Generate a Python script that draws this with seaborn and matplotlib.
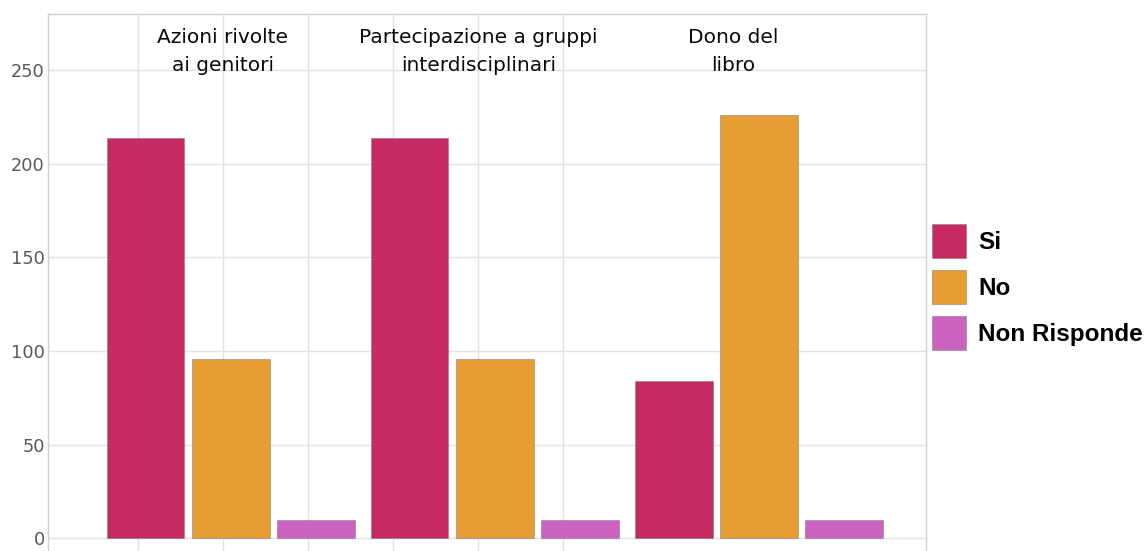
import matplotlib
matplotlib.use("Agg")
import matplotlib.pyplot as plt
import seaborn as sns
import pandas as pd

# Survey answers per initiative
categorie = ["Azioni rivolte\nai genitori",
             "Partecipazione a gruppi\ninterdisciplinari",
             "Dono del\nlibro"]
risposte = ["Si", "No", "Non Risponde"]
valori_si = [214, 214, 84]
valori_no = [96, 96, 226]
valori_nr = [10, 10, 10]
y_ticks = [0, 50, 100, 150, 200, 250]

colori = {"Si": "#C72A62", "No": "#E59D34", "Non Risponde": "#CA62C0"}

df = pd.DataFrame({
    "categoria": categorie * 3,
    "risposta": ["Si"] * 3 + ["No"] * 3 + ["Non Risponde"] * 3,
    "valore": valori_si + valori_no + valori_nr,
})

sns.set_theme(style="white")
plt.rcParams["font.family"] = ["DejaVu Sans"]

W, H = 1148, 551
fig = plt.figure(figsize=(W / 100, H / 100), dpi=100)
ax = fig.add_axes([48.3 / W, 0, (925.5 - 48.3) / W, (H - 14) / H])

sns.barplot(data=df, x="categoria", y="valore", hue="risposta",
            order=categorie, hue_order=risposte, palette=colori,
            saturation=1, width=0.969, gap=0.087, errorbar=None,
            edgecolor=(0.45, 0.45, 0.45, 0.45), linewidth=0.8, ax=ax)

# vertical guide lines on a regular grid
grid_start, grid_step = -0.353, 0.3225
x_grid = [grid_start + grid_step * k for k in range(6)]

ax.set_xlim(-0.691, 2.631)
ax.set_ylim(-6.8, 280)
ax.set_xticks(x_grid)
ax.set_xticklabels([])
ax.set_yticks(y_ticks)
ax.set_yticklabels([str(v) for v in y_ticks])
ax.tick_params(axis="x", length=0)
ax.tick_params(axis="y", length=0, pad=2.5, labelsize=12.8, labelcolor="#595959")
ax.set_xlabel("")
ax.set_ylabel("")
ax.grid(True, color="#e3e3e3", linewidth=1.0)
ax.set_axisbelow(True)
for side in ["top", "right", "left"]:
    ax.spines[side].set_color("#d0d0d0")
    ax.spines[side].set_linewidth(1.0)
ax.spines["bottom"].set_visible(False)

# category titles inside the plot area
for i, cat in enumerate(categorie):
    ax.text(grid_start + grid_step * (1 + 3 * i), 260, cat,
            ha="center", va="center", multialignment="center",
            fontsize=14.5, color="#0a0a0a", linespacing=1.6)

# legend at the right of the plot
leg = ax.get_legend()
handles = leg.legend_handles
labels = [t.get_text() for t in leg.get_texts()]
leg.remove()
fig.legend(handles, labels, loc="upper left",
           bbox_to_anchor=(932.3 / W, 1 - 224.3 / H),
           frameon=False, borderpad=0, borderaxespad=0,
           handlelength=1.40, handleheight=1.77, handletextpad=0.5,
           labelspacing=0.5, labelcolor="black",
           prop={"family": "Liberation Sans", "weight": "bold", "size": 17.5})

fig.savefig("out.png", dpi=100)
